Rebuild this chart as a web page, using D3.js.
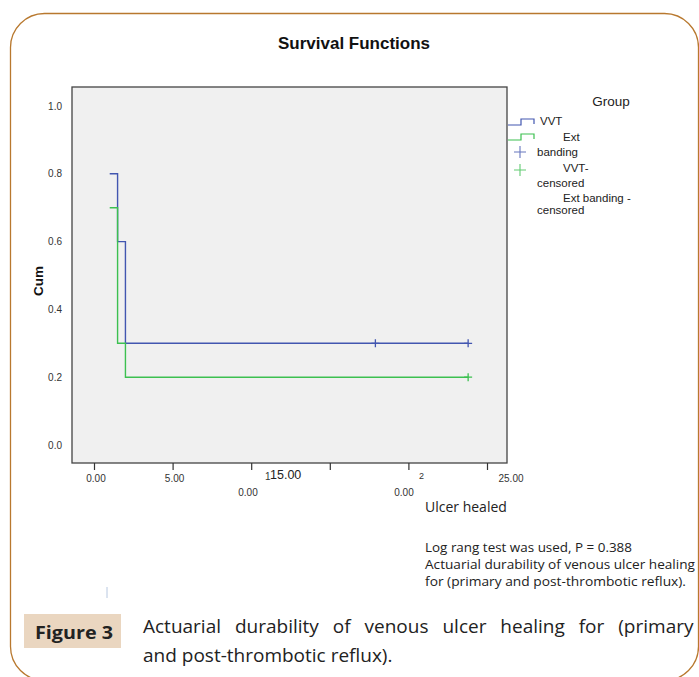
<!DOCTYPE html>
<html lang="en">
<head>
<meta charset="utf-8">
<script src="https://cdn.jsdelivr.net/npm/d3@7/dist/d3.min.js"></script>
<style>
body { margin:0; background:#fff; }
svg { display:block; }
.tick-lab { font-family: Arial, "Liberation Sans", sans-serif; font-size:10px; fill:#333; }
.note { font-family: "Open Sans", "Noto Sans", sans-serif; font-size:13.5px; fill:#222; }
</style>
</head>
<body>
<svg id="chart"></svg>
<script>
// data
var groups = ["VVT", "Ext banding"];
var vvtTime = [1.0, 1.5, 2.0, 23.8];
var vvtSurv = [0.8, 0.6, 0.3, 0.3];
var vvtCensored = [17.9, 23.8];
var extTime = [1.0, 1.5, 2.0, 23.8];
var extSurv = [0.7, 0.3, 0.2, 0.2];
var extCensored = [23.8];
var xTicks = [0, 5, 10, 15, 20, 25];
var xTickLabels = ["0.00", "5.00", "", "", "", "25.00"];
var yTicks = [0, 0.2, 0.4, 0.6, 0.8, 1.0];

var W = 699, H = 677;
var blue = "#4256b0", green = "#3cc050";

var svg = d3.select("#chart").attr("width", W).attr("height", H);

// outer frame
svg.append("rect").attr("x", 10.5).attr("y", 13.5).attr("width", 688).attr("height", 667)
	.attr("rx", 34).attr("ry", 34).attr("fill", "none").attr("stroke", "#b8782e").attr("stroke-width", 1.3);

var x = d3.scaleLinear().domain([0, 25]).range([94, 487]);
var y = d3.scaleLinear().domain([0, 1]).range([445, 106]);

// plot area
svg.append("rect").attr("x", 72).attr("y", 87).attr("width", 435).attr("height", 376)
	.attr("fill", "#f0f0f0").attr("stroke", "#444").attr("stroke-width", 1.3);

svg.append("text").attr("x", 278).attr("y", 49)
	.style("font-family", "Arial, 'Liberation Sans', sans-serif").style("font-size", "16.5px")
	.style("font-weight", "bold").attr("fill", "#111")
	.attr("textLength", 152).attr("lengthAdjust", "spacingAndGlyphs")
	.text("Survival Functions");

// y labels, no tick marks
svg.selectAll("text.ylab").data(yTicks).enter().append("text")
	.attr("class", "tick-lab ylab").attr("x", 62).attr("y", function(d){ return y(d) + 3.5; })
	.attr("text-anchor", "end").text(function(d){ return d.toFixed(1); });

svg.append("text").attr("transform", "translate(43,281) rotate(-90)").attr("text-anchor", "middle")
	.style("font-family", "Arial, sans-serif").style("font-size", "13.5px").style("font-weight", "bold")
	.attr("fill", "#111").text("Cum");

// x axis ticks
var xAxis = d3.axisBottom(x).tickValues(xTicks).tickSize(7).tickFormat("");
var gx = svg.append("g").attr("transform", "translate(0,463)").call(xAxis);
gx.select(".domain").remove();
gx.selectAll("line").attr("stroke", "#333").attr("stroke-width", 1.2);

svg.selectAll("text.xlab").data(xTicks).enter().append("text")
	.attr("class", "tick-lab xlab")
	.attr("x", function(d, i){ return x(d) + (i == 5 ? 24 : 2); })
	.attr("y", 482).attr("text-anchor", "middle")
	.text(function(d, i){ return xTickLabels[i]; });

// garbled overlapping labels as in the source image
svg.append("text").attr("x", 265).attr("y", 480).attr("class", "tick-lab").attr("fill", "#7a3c6a").text("1");
svg.append("text").attr("x", 270).attr("y", 479).style("font-family", "Arial, sans-serif")
	.style("font-size", "12.5px").attr("fill", "#222").text("15.00");
svg.append("text").attr("x", 248).attr("y", 496).attr("class", "tick-lab").attr("text-anchor", "middle").text("0.00");
svg.append("text").attr("x", 419).attr("y", 479).attr("class", "tick-lab").style("font-size", "9px").text("2");
svg.append("text").attr("x", 404).attr("y", 496).attr("class", "tick-lab").attr("text-anchor", "middle").text("0.00");

// survival steps
var step = d3.line().x(function(d){ return x(d[0]); }).y(function(d){ return y(d[1]); }).curve(d3.curveStepAfter);
var series = [
	{ time: vvtTime, surv: vvtSurv, cens: vvtCensored, color: blue },
	{ time: extTime, surv: extSurv, cens: extCensored, color: green }
];
series.forEach(function(s){
	var pts = s.time.map(function(t, i){ return [t, s.surv[i]]; });
	svg.append("path").attr("d", step(pts)).attr("fill", "none")
		.attr("stroke", s.color).attr("stroke-width", 1.4);
	s.cens.forEach(function(t){
		var i = d3.bisectRight(s.time, t) - 1;
		var cx = x(t), cy = y(s.surv[Math.max(i, 0)]);
		svg.append("path").attr("d", "M" + (cx-4) + "," + cy + "H" + (cx+4) + "M" + cx + "," + (cy-4) + "V" + (cy+4))
			.attr("stroke", s.color).attr("stroke-width", 1.3);
	});
});

// legend
var lg = svg.append("g").style("font-family", "Arial, sans-serif").style("font-size", "11.5px").attr("fill", "#222");
lg.append("text").attr("x", 611).attr("y", 106).attr("text-anchor", "middle").style("font-size", "13.5px").text("Group");
[blue, green].forEach(function(c, i){
	var yy = 125 + i * 15;
	lg.append("path").attr("d", "M508," + yy + "H521V" + (yy-6) + "H534V" + (yy-1))
		.attr("fill", "none").attr("stroke", c).attr("stroke-width", 1.2);
	var py = 152 + i * 18;
	lg.append("path").attr("d", "M514," + py + "H526M520," + (py-6) + "V" + (py+6))
		.attr("stroke", c).attr("stroke-width", 1.1).attr("opacity", 0.8);
});
lg.append("text").attr("x", 540).attr("y", 125).text(groups[0]);
lg.append("text").attr("x", 563).attr("y", 141).text("Ext");
lg.append("text").attr("x", 537).attr("y", 156).text("banding");
lg.append("text").attr("x", 563).attr("y", 172).text(groups[0] + "-");
lg.append("text").attr("x", 537).attr("y", 187).text("censored");
lg.append("text").attr("x", 563).attr("y", 202).text(groups[1] + " -");
lg.append("text").attr("x", 537).attr("y", 214).text("censored");

// notes
svg.append("text").attr("x", 425).attr("y", 512).attr("class", "note").style("font-size", "14px").text("Ulcer healed");
var notes = [
	["Log rang test was used, P = 0.388", 552, 207],
	["Actuarial durability of venous ulcer healing", 569, 270],
	["for (primary and post-thrombotic reflux).", 586, 261]
];
notes.forEach(function(n){
	svg.append("text").attr("x", 425).attr("y", n[1]).attr("class", "note")
		.attr("textLength", n[2]).attr("lengthAdjust", "spacingAndGlyphs").text(n[0]);
});

svg.append("line").attr("x1", 107).attr("x2", 107).attr("y1", 587).attr("y2", 598).attr("stroke", "#b8c8e0");

// figure caption
svg.append("rect").attr("x", 24).attr("y", 614).attr("width", 97).attr("height", 34).attr("fill", "#ead6c0");
svg.append("text").attr("x", 35).attr("y", 639)
	.style("font-family", "'Open Sans', sans-serif").style("font-size", "18px").style("font-weight", "bold")
	.attr("fill", "#222").attr("textLength", 78).attr("lengthAdjust", "spacingAndGlyphs").text("Figure 3");
var cap = svg.append("g").style("font-family", "'Open Sans', sans-serif").style("font-size", "19px").attr("fill", "#222");
cap.append("text").attr("x", 143).attr("y", 633).style("word-spacing", "9px")
	.text("Actuarial durability of venous ulcer healing for (primary");
cap.append("text").attr("x", 143).attr("y", 662).text("and post-thrombotic reflux).");
</script>
</body>
</html>
